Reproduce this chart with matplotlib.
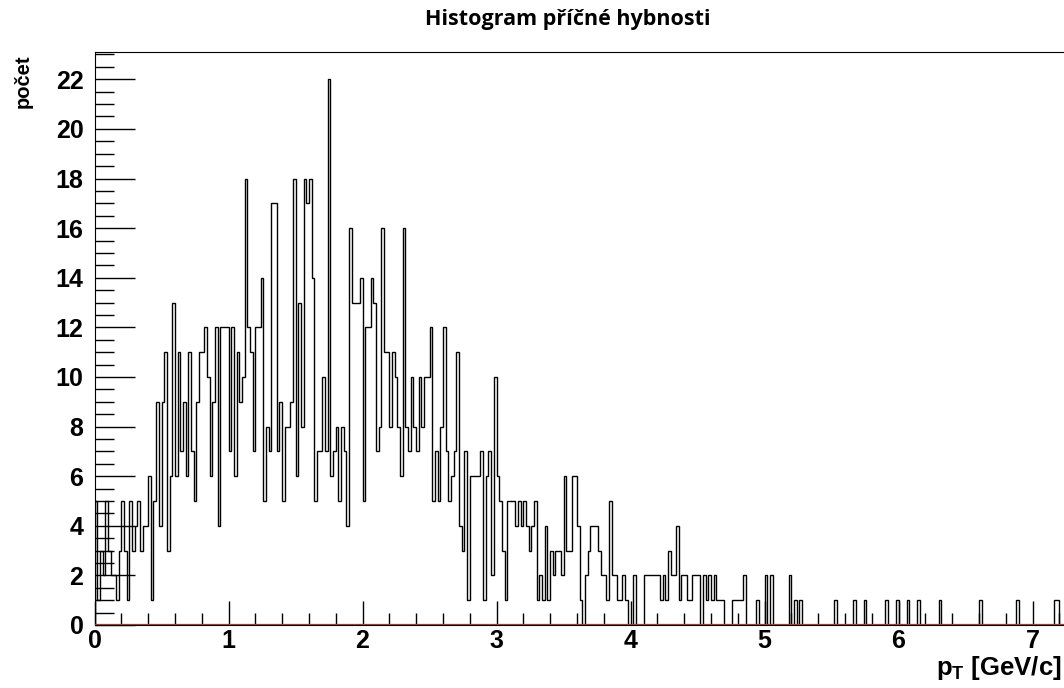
import numpy as np
import matplotlib.pyplot as plt
from matplotlib.ticker import MultipleLocator

bin_width = 0.02   # GeV/c
n_bins = 362

# counts per bin, bins 0 .. 247 (pT 0 .. 4.96)
counts_dense = [
    5, 1, 3, 2, 5, 3, 2, 2, 1, 3, 5, 3, 1, 5, 3, 4, 5, 3, 4, 4,
    6, 1, 5, 9, 4, 9, 11, 3, 6, 13, 6, 11,
    7, 9, 6, 11, 7, 5, 9, 11, 11, 12, 10, 6, 9, 12, 4, 12, 12, 12,
    7, 12, 6, 11, 9, 10, 18, 12, 11, 7, 12, 12, 14,
    5, 8, 7, 17, 17, 7, 9, 5, 8, 8, 9, 18, 6, 13, 8, 18, 17, 18,
    14, 5, 7, 7, 10, 7, 22, 6, 7, 8, 5, 8, 7, 4, 16,
    13, 13, 13, 14, 5, 12, 12, 14, 13, 7, 8, 16, 11, 11, 8, 11, 10, 8,
    6, 16, 8, 7, 10, 8, 7, 10, 8, 10, 10, 12, 5,
    7, 5, 8, 12, 7, 5, 6, 7, 11, 4, 3, 7, 1, 6, 6, 6, 6, 7, 1, 6,
    7, 2, 10, 6, 5, 3, 1, 5, 5, 5, 4, 5, 4,
    5, 4, 3, 4, 5, 1, 2, 1, 4, 1, 3, 2, 3, 3, 2, 6, 3, 3, 6, 6,
    4, 1, 0, 2, 3, 4, 4, 4, 3, 2, 2, 1,
    5, 2, 2, 1, 1, 2, 1, 0, 0, 2, 0, 0, 0, 2, 2, 2, 2, 2, 2, 1,
    2, 1, 3, 2, 2, 4, 1, 2, 2, 1, 1, 2, 2, 2, 0, 2, 1, 2, 1, 2,
    1, 1, 1, 0, 0, 0, 1, 1, 1, 1, 2, 0, 0, 0, 0, 1,
]

# sparse tail above pT ~ 5: bin index and count
tail_bins = [250, 252, 259, 261, 263, 276, 283, 287, 295, 299,
             303, 307, 315, 330, 344, 358, 359]
tail_counts = [2, 2, 2, 1, 1, 1, 1, 1, 1, 1,
               1, 1, 1, 1, 1, 1, 1]

counts = np.zeros(n_bins)
counts[:len(counts_dense)] = counts_dense
counts[tail_bins] = tail_counts
edges = np.arange(n_bins + 1) * bin_width

plt.rcParams['font.family'] = 'Liberation Sans'
plt.rcParams['mathtext.fontset'] = 'custom'
plt.rcParams['mathtext.bf'] = 'Liberation Sans:bold'
plt.rcParams['mathtext.rm'] = 'Liberation Sans:bold'

W, H = 1064, 688
fig = plt.figure(figsize=(W / 100, H / 100), dpi=100)
x0, x1, y0, y1 = 94.5, 1066, 625, 52
ax = fig.add_axes([x0 / W, 1 - y0 / H, (x1 - x0) / W, (y0 - y1) / H])

ax.stairs(counts, edges, color='black', lw=1.0)
ax.axhline(0, color='#a8382a', lw=1.6, zorder=3)

ax.set_xlim(0, (x1 - x0) / 134.0)
ax.set_ylim(0, 22 * 1.05)

ax.xaxis.set_major_locator(MultipleLocator(1))
ax.xaxis.set_minor_locator(MultipleLocator(0.2))
ax.yaxis.set_major_locator(MultipleLocator(2))
ax.yaxis.set_minor_locator(MultipleLocator(0.5))
ax.tick_params(axis='x', which='major', direction='in', length=17, width=1,
               labelsize=18, pad=3)
ax.tick_params(axis='x', which='minor', direction='in', length=9, width=1)
ax.tick_params(axis='y', which='major', direction='in', length=29, width=1,
               labelsize=18, pad=8)
ax.tick_params(axis='y', which='minor', direction='in', length=14, width=1)
for lab in ax.get_xticklabels() + ax.get_yticklabels():
    lab.set_fontweight('bold')
ax.spines['right'].set_visible(False)

fig.text(568 / W, 1 - 20 / H, 'Histogram příčné hybnosti', family='Open Sans',
         weight='bold', fontsize=15.5, ha='center', va='center')
fig.text(23 / W, 1 - 81 / H, 'počet', rotation=90, fontsize=14.5,
         weight='bold', ha='center', va='center')
fig.text(1062 / W, 1 - 668 / H, r'$\mathbf{p_{T}}$ [GeV/c]', fontsize=18.5,
         weight='bold', ha='right', va='center')

plt.savefig('out.png', dpi=100)
plt.close()
